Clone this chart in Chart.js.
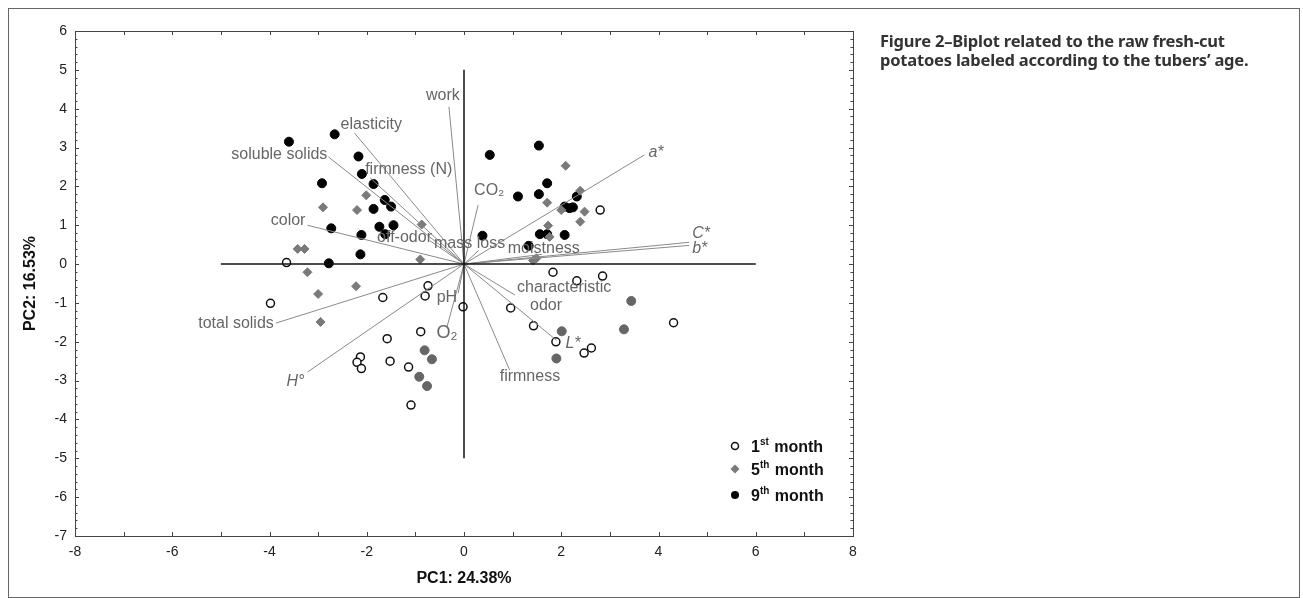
<!DOCTYPE html>
<html>
<head>
<meta charset="utf-8">
<script src="https://cdn.jsdelivr.net/npm/chart.js@4/dist/chart.umd.min.js"></script>
<style>
  body { margin: 0; background: #fff; }
  #wrap { position: relative; width: 1303px; height: 598px; }
  #frame { position: absolute; left: 8px; top: 8px; width: 1290px; height: 588px; border: 1px solid #666; pointer-events: none; }
  #caption { position: absolute; left: 880px; top: 31px; font: bold 16.5px "Noto Sans", sans-serif; line-height: 19px; color: #333; letter-spacing: -0.2px; }
</style>
</head>
<body>
<div id="wrap">
  <canvas id="chart"></canvas>
  <div id="frame"></div>
  <div id="caption">Figure 2–Biplot related to the raw fresh-cut<br>potatoes labeled according to the tubers’ age.</div>
</div>
<script>
// Biplot: PCA scores of fresh-cut potatoes by tuber age + variable loadings

// scores, [PC1, PC2]
const month1 = [[-3.65,0.04],[-3.98,-1.01],[-1.67,-0.86],[-0.74,-0.56],[-0.80,-0.82],[-0.02,-1.10],
  [-0.89,-1.74],[-1.58,-1.92],[-2.13,-2.39],[-2.20,-2.53],[-2.11,-2.69],[-1.52,-2.50],[-1.14,-2.65],
  [-1.09,-3.63],[2.80,1.39],[1.83,-0.21],[2.32,-0.43],[2.85,-0.31],[0.96,-1.13],[1.43,-1.59],
  [1.89,-2.00],[2.47,-2.29],[2.62,-2.16],[4.31,-1.51]];
const month5 = [[-2.01,1.77],[-2.90,1.46],[-2.20,1.39],[-0.87,1.02],[-3.42,0.39],[-3.28,0.39],
  [-0.90,0.12],[-3.22,-0.21],[-3.00,-0.77],[-2.22,-0.57],[-2.95,-1.49],[2.09,2.53],[2.39,1.89],
  [1.71,1.58],[2.00,1.39],[2.48,1.35],[2.39,1.09],[1.73,0.99],[1.76,0.70],[1.49,0.15],[1.42,0.09]];
// 5th month points printed as grey dots instead of diamonds
const month5Dots = [[-0.81,-2.22],[-0.66,-2.45],[-0.92,-2.90],[-0.76,-3.14],[3.44,-0.95],[3.29,-1.68],
  [2.01,-1.73],[1.90,-2.43]];
const month9 = [[-3.60,3.15],[-2.66,3.34],[-2.17,2.77],[-2.10,2.32],[-1.86,2.06],[-2.92,2.08],
  [-1.63,1.65],[-1.50,1.48],[-1.86,1.42],[-1.74,0.96],[-1.45,1.00],[-1.62,0.77],[-2.73,0.92],
  [-2.11,0.75],[-2.13,0.25],[-2.78,0.02],[0.53,2.81],[1.54,3.05],[1.71,2.08],[1.54,1.80],[1.11,1.74],
  [2.32,1.74],[2.07,1.48],[2.17,1.44],[2.24,1.46],[1.56,0.77],[1.71,0.77],[2.07,0.75],[0.38,0.73],[1.33,0.47]];

// loadings (vector ends)
const vectorNames = ["work","elasticity","soluble solids","firmness (N)","color","off-odor","mass loss",
  "CO2","a*","C*","b*","moistness","characteristic odor","L*","firmness","pH","O2","total solids","H°"];
const vectorEnds = [[-0.31,4.05],[-2.25,3.37],[-2.79,2.76],[-1.93,2.22],[-3.22,1.00],[-0.70,0.60],[0.30,0.35],
  [0.29,1.52],[3.71,2.81],[4.63,0.56],[4.63,0.48],[1.60,0.25],[1.05,-0.80],[1.90,-1.96],[0.94,-2.73],
  [-0.12,-0.75],[-0.35,-1.62],[-3.87,-1.52],[-3.22,-2.78]];

// label placement: [vector index, text, dx, dy, align, italic, size]
const vectorLabels = [
  [0,"work",-6,-11,"center",false,16],
  [1,"elasticity",-14,-9,"left",false,16],
  [2,"soluble solids",-1,-2,"right",false,16],
  [3,"firmness (N)",-5,-8,"left",false,16],
  [4,"color",-2,-5,"right",false,16],
  [5,"off-odor",2,-3,"right",false,16],
  [6,"mass loss",-9,-7,"center",false,16],
  [7,"CO₂",-4,-14,"left",false,16],
  [8,"a*",4,-2,"left",true,16],
  [9,"C*",3,-9,"left",true,16],
  [10,"b*",3,3,"left",true,16],
  [11,"moistness",2,-6,"center",false,16],
  [12,"characteristic",2,-8,"left",false,16],
  [12,"odor",15,10,"left",false,16],
  [13,"L*",9,3,"left",true,16],
  [14,"firmness",-10,6,"left",false,16],
  [15,"pH",-1,4,"right",false,16],
  [16,"O₂",0,6,"center",false,18],
  [17,"total solids",-2,0,"right",false,16],
  [18,"H°",-3,9,"right",true,16]
];

const xAxisLine = [[-5,0],[6,0]];
const yAxisLine = [[0,-5],[0,5]];
const legendItems = [["1","st"],["5","th"],["9","th"]];

const pts = a => a.map(p => ({x: p[0], y: p[1]}));

const datasets = [];
datasets.push({type:'line', data: pts(xAxisLine), borderColor:'#111', borderWidth:1.5, pointRadius:0});
datasets.push({type:'line', data: pts(yAxisLine), borderColor:'#111', borderWidth:1.5, pointRadius:0});
for (const v of vectorEnds) {
  datasets.push({type:'line', data:[{x:0,y:0},{x:v[0],y:v[1]}], borderColor:'#8a8a8a', borderWidth:1, pointRadius:0});
}
datasets.push({label:'1st month', data: pts(month1), pointStyle:'circle', pointRadius:4,
  backgroundColor:'#fff', borderColor:'#111', borderWidth:1.5});
const m5all = month5.concat(month5Dots);
datasets.push({label:'5th month', data: pts(m5all),
  pointStyle: m5all.map((p,i) => i < month5.length ? 'rectRot' : 'circle'),
  pointRadius: 4.5,
  backgroundColor: m5all.map((p,i) => i < month5.length ? '#7a7a7a' : '#666'),
  borderColor: m5all.map((p,i) => i < month5.length ? '#7a7a7a' : '#666'), borderWidth:1});
datasets.push({label:'9th month', data: pts(month9), pointStyle:'circle', pointRadius:4.5,
  backgroundColor:'#000', borderColor:'#000', borderWidth:1});

const biplotDecor = {
  id: 'biplotDecor',
  afterDatasetsDraw(chart) {
    const {ctx, chartArea: ca, scales: {x, y}} = chart;
    ctx.save();
    // frame
    ctx.strokeStyle = '#444';
    ctx.lineWidth = 1;
    ctx.strokeRect(ca.left + 0.5, ca.top + 0.5, ca.right - ca.left, ca.bottom - ca.top);
    // inward ticks
    ctx.beginPath();
    for (let v = -8; v <= 8; v++) {
      const px = Math.round(x.getPixelForValue(v)) + 0.5;
      ctx.moveTo(px, ca.bottom); ctx.lineTo(px, ca.bottom - 4);
      ctx.moveTo(px, ca.top); ctx.lineTo(px, ca.top + 4);
    }
    for (let k = -35; k <= 30; k++) {
      const v = k / 5;
      const py = Math.round(y.getPixelForValue(v)) + 0.5;
      const len = k % 5 === 0 ? 4 : 2.5;
      ctx.moveTo(ca.left, py); ctx.lineTo(ca.left + len, py);
      ctx.moveTo(ca.right, py); ctx.lineTo(ca.right - len, py);
    }
    ctx.stroke();

    // loading labels
    ctx.fillStyle = '#666';
    ctx.textBaseline = 'middle';
    for (const [i, text, dx, dy, align, italic, size] of vectorLabels) {
      const e = vectorEnds[i];
      ctx.font = (italic ? 'italic ' : '') + size + 'px "Liberation Sans", Arial, sans-serif';
      ctx.textAlign = align;
      ctx.fillText(text, x.getPixelForValue(e[0]) + dx, y.getPixelForValue(e[1]) + dy);
    }

    // legend
    const lx = ca.right - 118, rows = [ca.bottom - 90, ca.bottom - 67, ca.bottom - 41];
    rows.forEach((ry, r) => {
      ctx.beginPath();
      if (r === 0) {
        ctx.arc(lx, ry, 3.5, 0, Math.PI * 2);
        ctx.fillStyle = '#fff'; ctx.fill();
        ctx.strokeStyle = '#111'; ctx.lineWidth = 1.5; ctx.stroke();
      } else if (r === 1) {
        ctx.moveTo(lx, ry - 4.5); ctx.lineTo(lx + 4.5, ry); ctx.lineTo(lx, ry + 4.5); ctx.lineTo(lx - 4.5, ry);
        ctx.closePath(); ctx.fillStyle = '#7a7a7a'; ctx.fill();
      } else {
        ctx.arc(lx, ry, 4, 0, Math.PI * 2);
        ctx.fillStyle = '#000'; ctx.fill();
      }
      const [num, sup] = legendItems[r];
      ctx.fillStyle = '#111';
      ctx.textAlign = 'left';
      ctx.textBaseline = 'alphabetic';
      let tx = lx + 16;
      ctx.font = 'bold 16px "Liberation Sans", Arial, sans-serif';
      ctx.fillText(num, tx, ry + 6);
      tx += ctx.measureText(num).width;
      ctx.font = 'bold 10px "Liberation Sans", Arial, sans-serif';
      ctx.fillText(sup, tx, ry - 1);
      tx += ctx.measureText(sup).width + 1;
      ctx.font = 'bold 16px "Liberation Sans", Arial, sans-serif';
      ctx.fillText(' month', tx, ry + 6);
    });
    ctx.restore();
  }
};

new Chart(document.getElementById('chart'), {
  type: 'scatter',
  data: { datasets },
  options: {
    responsive: true,
    maintainAspectRatio: false,
    animation: false,
    layout: { padding: { left: 8, top: 31, right: 450, bottom: 6 } },
    plugins: { legend: { display: false }, tooltip: { enabled: false } },
    scales: {
      x: {
        type: 'linear', min: -8, max: 8,
        grid: { display: false, drawTicks: false },
        border: { display: false },
        ticks: { stepSize: 2, padding: 8, color: '#222', font: { size: 14, family: '"Liberation Sans", Arial' } },
        title: { display: true, text: 'PC1: 24.38%', color: '#111', padding: { top: 0, bottom: 4 },
          font: { size: 16, weight: 'bold', family: '"Liberation Sans", Arial' } },
        afterFit: s => { s.height = 56; }
      },
      y: {
        type: 'linear', min: -7, max: 6,
        grid: { display: false, drawTicks: false },
        border: { display: false },
        ticks: { stepSize: 1, padding: 8, color: '#222', font: { size: 14, family: '"Liberation Sans", Arial' } },
        title: { display: true, text: 'PC2: 16.53%', color: '#111', padding: { top: 13, bottom: 0 },
          font: { size: 16, weight: 'bold', family: '"Liberation Sans", Arial' } },
        afterFit: s => { s.width = 67; }
      }
    }
  },
  plugins: [biplotDecor]
});
</script>
</body>
</html>
